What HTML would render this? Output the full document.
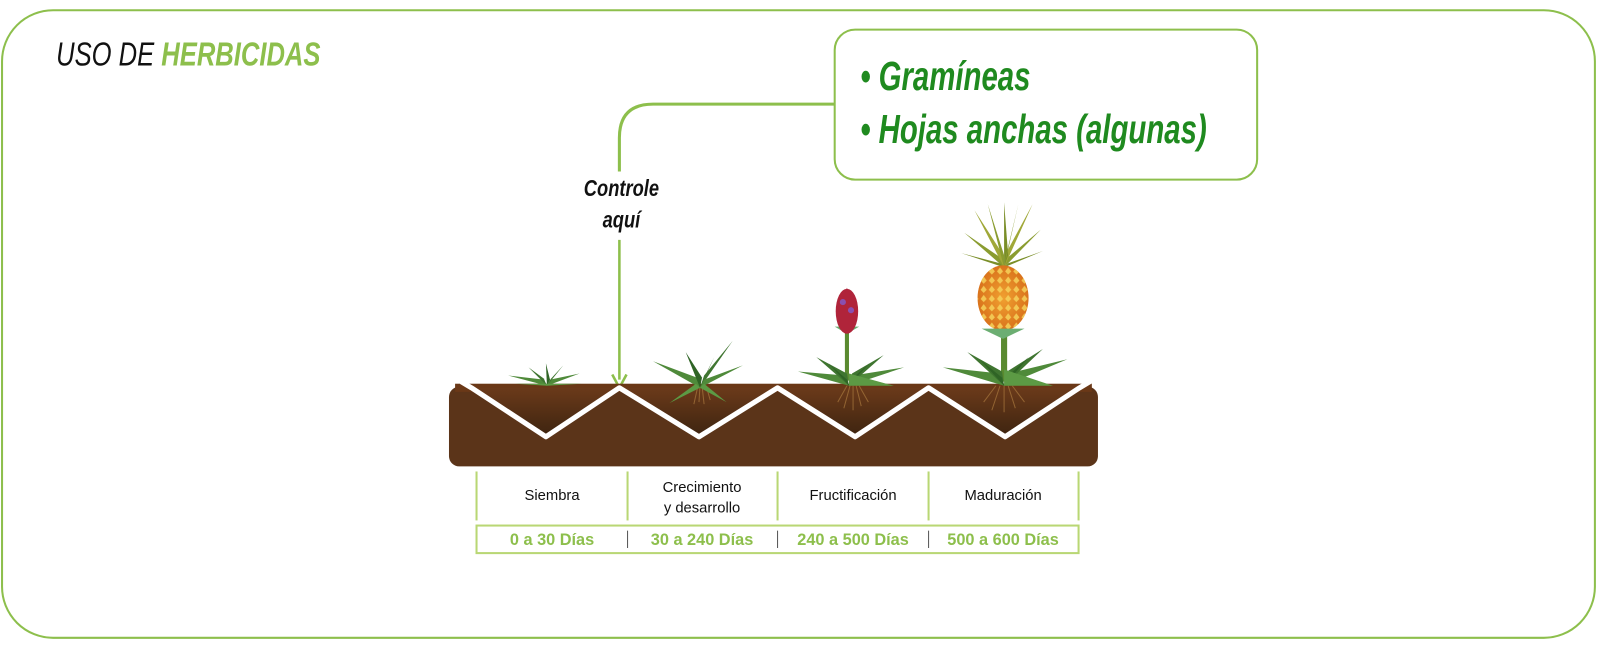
<!DOCTYPE html>
<html><head><meta charset="utf-8"><style>
html,body{margin:0;padding:0;background:#fff;width:1600px;height:646px;overflow:hidden}
svg{display:block}
.cond{font-family:"Liberation Sans Narrow","Liberation Sans",sans-serif;font-style:italic}
.lbl{font-family:"Liberation Sans",sans-serif;font-size:14.5px;fill:#111;text-anchor:middle}
.day{font-family:"Liberation Sans Narrow","Liberation Sans",sans-serif;font-weight:bold;font-size:16px;fill:#8dbf4c;text-anchor:middle}
</style></head><body>
<svg width="1600" height="646" viewBox="0 0 1568 633" xmlns="http://www.w3.org/2000/svg">
<defs>
<linearGradient id="v" x1="0" y1="0" x2="0" y2="1"><stop offset="0" stop-color="#6b3a1a"/><stop offset="1" stop-color="#3d2410"/></linearGradient>
<radialGradient id="fr" cx="0.5" cy="0.5" r="0.6"><stop offset="0" stop-color="#f0a030"/><stop offset="1" stop-color="#d56a18"/></radialGradient>
<pattern id="dots" width="8" height="9" patternUnits="userSpaceOnUse"><path d="M4 1 L7 5 L4 8 L1 5Z" fill="#f6d25a" opacity="0.85"/></pattern>
</defs>
<rect x="2" y="10" width="1561" height="615" rx="50" fill="none" stroke="#8dbf4c" stroke-width="2"/>
<text x="55" y="64" class="cond" font-size="33" fill="#111" transform="translate(55,0) scale(0.76,1) translate(-55,0)">USO DE <tspan font-weight="bold" fill="#8dbf4c">HERBICIDAS</tspan></text>

<rect x="818" y="29" width="414" height="147" rx="20" fill="#fff" stroke="#8dbf4c" stroke-width="2"/>
<g class="cond" font-size="40" font-weight="bold" fill="#1f8a1f" transform="translate(843,0) scale(0.72,1) translate(-843,0)">
<text x="843" y="88">• Gramíneas</text>
<text x="843" y="140">• Hojas anchas (algunas)</text>
</g>
<path d="M818 102 H640 Q607 102 607 135 V168" fill="none" stroke="#8dbf4c" stroke-width="3"/>
<path d="M607 235 V372" fill="none" stroke="#8dbf4c" stroke-width="2.5"/>
<path d="M600 367 L607 380 L614 367" fill="none" stroke="#8dbf4c" stroke-width="2.5"/>
<g class="cond" font-size="23" font-weight="bold" fill="#111" text-anchor="middle" transform="translate(609,0) scale(0.78,1) translate(-609,0)">
<text x="609" y="192">Controle</text><text x="609" y="223">aquí</text></g>

<!-- soil -->
<rect x="440" y="379" width="636" height="78" rx="10" fill="#5b3419"/>
<rect x="446" y="376" width="624" height="8" fill="#6a3817"/>
<path d="M462 380 L535 428 L607 380 L685 428 L762 380 L838 428 L910 380 L985 428 L1058 380Z" fill="url(#v)"/>
<path d="M452 374 L462 380 L535 428 L607 380 L685 428 L762 380 L838 428 L910 380 L985 428 L1058 380 L1068 374" fill="none" stroke="#fff" stroke-width="5" stroke-linejoin="round"/>

<!-- roots -->
<g stroke="#a0703a" stroke-width="1" fill="none" opacity="0.8">
<path d="M684 378 l-4 18 M688 378 l2 18 M686 378 l-1 16 M692 378 l4 14"/>
<path d="M833 378 l-6 22 M836 378 l0 24 M839 378 l5 20 M830 378 l-9 16 M842 378 l9 16"/>
<path d="M980 378 l-8 24 M984 378 l0 26 M988 378 l7 22 M976 378 l-12 16 M992 378 l12 16"/>
</g>

<!-- plant 1 -->
<g fill="#4f8a3a">
<path d="M536 378 L498 368 L533 372Z"/><path d="M536 378 L568 366 L539 372Z"/>
<path d="M536 378 L518 360 L533 371Z" fill="#3f7530"/><path d="M536 378 L552 358 L540 371Z" fill="#3f7530"/>
<path d="M536 378 L535 356 L539 372Z" fill="#2f6425"/><path d="M536 378 L505 376 L570 376Z" fill="#5c9a44"/>
</g>
<!-- plant 2 -->
<g fill="#4f8a3a">
<path d="M686 380 L640 354 L683 370Z"/><path d="M686 380 L718 334 L690 368Z" fill="#3f7530"/>
<path d="M686 380 L728 358 L690 372Z"/><path d="M686 380 L656 395 L682 376Z" fill="#5c9a44"/>
<path d="M686 380 L712 394 L690 376Z" fill="#5c9a44"/><path d="M686 380 L672 345 L688 370Z" fill="#2f6425"/>
<path d="M686 380 L700 350 L689 372Z" fill="#3f7530"/>
</g>
<!-- plant 3 flower -->
<rect x="828" y="318" width="4" height="55" fill="#5a8a30"/>
<path d="M830 327 L818 320 L842 320Z" fill="#6cae72"/>
<ellipse cx="830" cy="305" rx="11" ry="22" fill="#b0243a"/>
<path d="M830 282 L826 292 L834 292Z" fill="#b0243a"/>
<circle cx="826" cy="296" r="3" fill="#8a4fb0"/><circle cx="834" cy="304" r="3" fill="#8a4fb0"/>
<g fill="#4f8a3a">
<path d="M832 378 L782 364 L828 368Z"/><path d="M832 378 L886 360 L836 368Z"/>
<path d="M832 378 L800 350 L830 366Z" fill="#3f7530"/><path d="M832 378 L866 348 L835 366Z" fill="#3f7530"/>
<path d="M832 378 L812 356 L830 372Z" fill="#2f6425"/><path d="M832 378 L852 356 L834 372Z" fill="#2f6425"/>
<path d="M832 378 L790 378 L876 378 L832 366Z" fill="#5c9a44"/>
</g>
<!-- plant 4 pineapple -->
<rect x="981" y="318" width="6" height="56" fill="#5a8a30"/>
<g fill="#8a9c30">
<path d="M984 262 L945 228 L980 252Z"/><path d="M984 262 L1020 225 L988 252Z"/>
<path d="M984 262 L955 206 L982 248Z" fill="#a0a838"/><path d="M984 262 L1012 200 L986 248Z" fill="#a0a838"/>
<path d="M984 262 L984 198 L988 250Z" fill="#7a8e28"/><path d="M984 262 L968 200 L984 250Z"/>
<path d="M984 262 L998 200 L986 250Z"/><path d="M984 262 L942 248 L980 258Z" fill="#7a8e28"/>
<path d="M984 262 L1022 246 L988 258Z" fill="#7a8e28"/>
</g>
<ellipse cx="983" cy="292" rx="25" ry="32" fill="url(#fr)"/>
<ellipse cx="983" cy="292" rx="25" ry="32" fill="url(#dots)"/>
<path d="M983 332 L962 322 L1004 322Z" fill="#6cae72"/>
<g fill="#4f8a3a">
<path d="M984 378 L924 360 L980 366Z"/><path d="M984 378 L1046 352 L988 366Z"/>
<path d="M984 378 L948 345 L982 364Z" fill="#3f7530"/><path d="M984 378 L1022 342 L987 364Z" fill="#3f7530"/>
<path d="M984 378 L960 352 L982 370Z" fill="#2f6425"/><path d="M984 378 L1008 350 L986 370Z" fill="#2f6425"/>
<path d="M984 378 L938 378 L1032 378 L984 362Z" fill="#5c9a44"/>
</g>

<!-- table -->
<g stroke="#b9d774" stroke-width="2">
<line x1="467" y1="462" x2="467" y2="510"/><line x1="615" y1="462" x2="615" y2="510"/>
<line x1="762" y1="462" x2="762" y2="510"/><line x1="910" y1="462" x2="910" y2="510"/>
<line x1="1057" y1="462" x2="1057" y2="510"/>
<rect x="467" y="515" width="590" height="27" fill="none"/>
</g>
<g stroke="#555" stroke-width="1">
<line x1="615" y1="520" x2="615" y2="537"/><line x1="762" y1="520" x2="762" y2="537"/><line x1="910" y1="520" x2="910" y2="537"/>
</g>
<text class="lbl" x="541" y="490">Siembra</text>
<text class="lbl" x="688" y="482">Crecimiento</text><text class="lbl" x="688" y="502">y desarrollo</text>
<text class="lbl" x="836" y="490">Fructificación</text>
<text class="lbl" x="983" y="490">Maduración</text>
<text class="day" x="541" y="534">0 a 30 Días</text>
<text class="day" x="688" y="534">30 a 240 Días</text>
<text class="day" x="836" y="534">240 a 500 Días</text>
<text class="day" x="983" y="534">500 a 600 Días</text>
</svg>
</body></html>
